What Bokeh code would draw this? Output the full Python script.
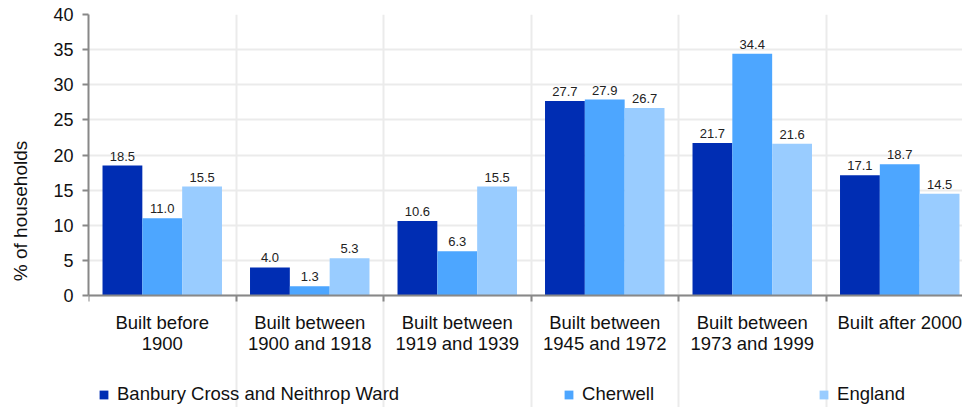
from bokeh.plotting import figure
from bokeh.models import (ColumnDataSource, Range1d, FixedTicker, LabelSet, Legend, LegendItem)
from bokeh.core.properties import value
from bokeh.embed import file_html
from bokeh.resources import INLINE

categories = ["Built before\n1900", "Built between\n1900 and 1918", "Built between\n1919 and 1939",
              "Built between\n1945 and 1972", "Built between\n1973 and 1999", "Built after 2000"]
series_names = ["Banbury Cross and Neithrop Ward", "Cherwell", "England"]
banbury = [18.5, 4.0, 10.6, 27.7, 21.7, 17.1]
cherwell = [11.0, 1.3, 6.3, 27.9, 34.4, 18.7]
england = [15.5, 5.3, 15.5, 26.7, 21.6, 14.5]
colors = ["#002DB3", "#4DA6FF", "#99CCFF"]
y_ticks = [0, 5, 10, 15, 20, 25, 30, 35, 40]

FONT = "Liberation Sans"
PX_PER_UNIT = 281 / 40.0
FRAME_H = 407 - 14
CAT_PX = 147.5

p = figure(width=962, height=407, output_backend="svg", toolbar_location=None,
           x_range=Range1d(0, 874 / CAT_PX),
           y_range=Range1d(40 - FRAME_H / PX_PER_UNIT, 40),
           min_border_left=88, min_border_right=0, min_border_top=14, min_border_bottom=0)
p.outline_line_color = None

bw = 0.27
offsets = [-bw, 0.0, bw]
renderers = []
for vals, off, col, name in zip([banbury, cherwell, england], offsets, colors, series_names):
    xs = [i + 0.5 + off for i in range(len(categories))]
    src = ColumnDataSource(dict(x=xs, top=vals, lab=["%.1f" % v for v in vals]))
    r = p.vbar(x="x", top="top", bottom=0, width=bw, source=src, fill_color=col, line_color=None)
    renderers.append(r)
    p.add_layout(LabelSet(x="x", y="top", text="lab", source=src, y_offset=5,
                          text_align="center", text_baseline="bottom",
                          text_font=value(FONT), text_font_size="13px", text_color="#222222"))

# x axis (placed at y = 0 inside the frame)
p.xaxis.fixed_location = 0
p.xaxis.ticker = FixedTicker(ticks=[i + 0.5 for i in range(len(categories))],
                             minor_ticks=list(range(len(categories) + 1)))
p.xaxis.major_label_overrides = {i + 0.5: c for i, c in enumerate(categories)}
p.xaxis.major_tick_out = 0
p.xaxis.major_tick_in = 0
p.xaxis.minor_tick_out = 6
p.xaxis.minor_tick_in = 0
p.xaxis.minor_tick_line_color = "#888888"
p.xaxis.minor_tick_line_width = 2
p.xaxis.axis_line_color = "#888888"
p.xaxis.axis_line_width = 2
p.xaxis.major_label_text_font = FONT
p.xaxis.major_label_text_font_size = "18.5px"
p.xaxis.major_label_text_color = "#111111"
p.xaxis.major_label_text_line_height = 1.0
p.xaxis.major_label_standoff = 10

# y axis
p.yaxis.bounds = (0, 40)
p.yaxis.ticker = FixedTicker(ticks=y_ticks)
p.yaxis.minor_tick_line_color = None
p.yaxis.major_tick_out = 6
p.yaxis.major_tick_in = 0
p.yaxis.major_tick_line_color = "#888888"
p.yaxis.major_tick_line_width = 2
p.yaxis.axis_line_color = "#888888"
p.yaxis.axis_line_width = 2
p.yaxis.major_label_text_font = FONT
p.yaxis.major_label_text_font_size = "18px"
p.yaxis.major_label_text_color = "#111111"
p.yaxis.major_label_standoff = 9
p.yaxis.axis_label = "% of households"
p.yaxis.axis_label_text_font = FONT
p.yaxis.axis_label_text_font_size = "19px"
p.yaxis.axis_label_text_font_style = "normal"
p.yaxis.axis_label_text_color = "#111111"
p.yaxis.axis_label_standoff = 19

# grids
p.xgrid.ticker = FixedTicker(ticks=list(range(len(categories) + 1)))
p.xgrid.bounds = (0, 40)
p.xgrid.grid_line_color = "#EBEBEB"
p.xgrid.grid_line_width = 2
p.ygrid.ticker = FixedTicker(ticks=y_ticks)
p.ygrid.grid_line_color = "#EBEBEB"
p.ygrid.grid_line_width = 2

# legend
legend = Legend(items=[LegendItem(label=n, renderers=[r]) for n, r in zip(series_names, renderers)],
                orientation="horizontal", location=(10, 2),
                padding=0, margin=0, spacing=164, glyph_width=11, glyph_height=11,
                label_standoff=8, label_text_font=FONT, label_text_font_size="18.5px",
                label_text_color="#111111", border_line_alpha=0, background_fill_alpha=0,
                label_height=20)
p.add_layout(legend, "center")

open("out.html", "w").write(file_html(p, INLINE))
